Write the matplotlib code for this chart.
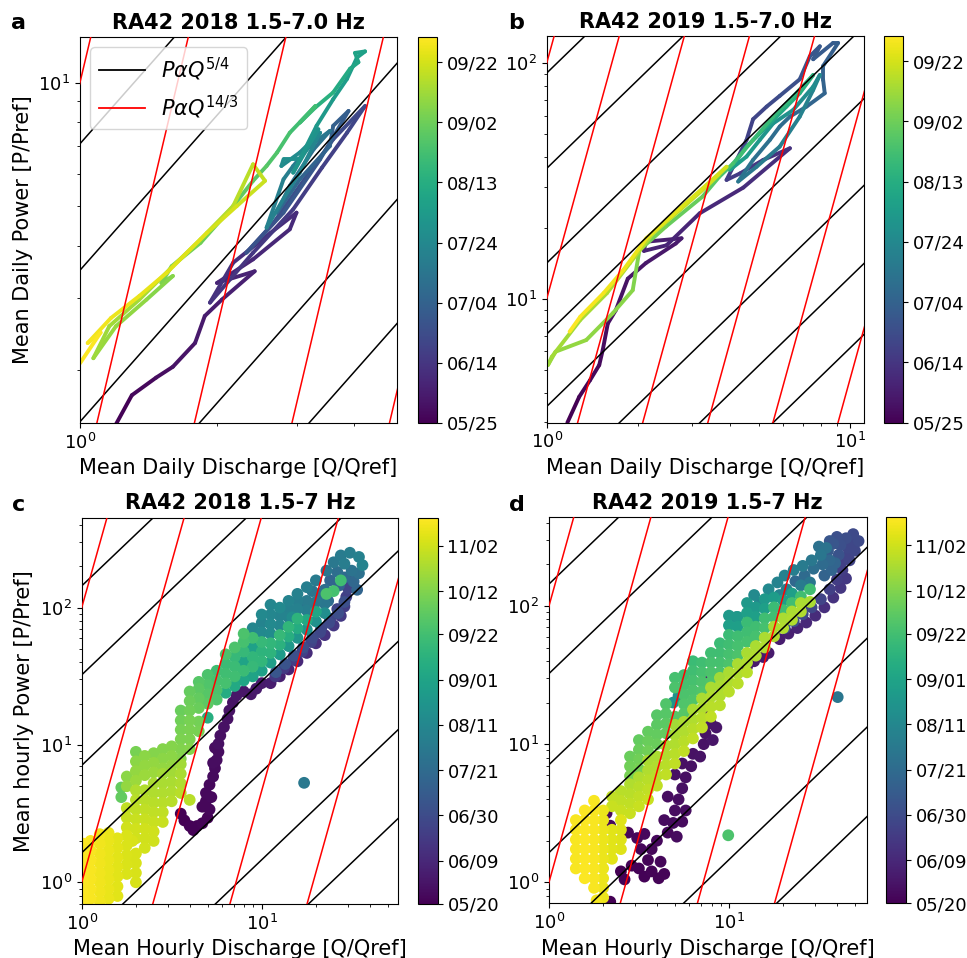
import numpy as np
import matplotlib
matplotlib.use("Agg")
import matplotlib.pyplot as plt
from matplotlib.collections import LineCollection
from matplotlib.colors import Normalize
from matplotlib.cm import ScalarMappable
from matplotlib.ticker import NullFormatter
from matplotlib.lines import Line2D
from datetime import date

# ---------------- text ----------------
titles = ["RA42 2018 1.5-7.0 Hz", "RA42 2019 1.5-7.0 Hz", "RA42 2018 1.5-7 Hz", "RA42 2019 1.5-7 Hz"]
panel_letters = ["a", "b", "c", "d"]
xlabel_daily = "Mean Daily Discharge [Q/Qref]"
ylabel_daily = "Mean Daily Power [P/Pref]"
xlabel_hourly = "Mean Hourly Discharge [Q/Qref]"
ylabel_hourly = "Mean hourly Power [P/Pref]"
legend_labels = [r"$P\alpha Q^{5/4}$", r"$P\alpha Q^{14/3}$"]

cbar_labels_daily = ["05/25", "06/14", "07/04", "07/24", "08/13", "09/02", "09/22"]
cbar_labels_hourly = ["05/20", "06/09", "06/30", "07/21", "08/11", "09/01", "09/22", "10/12", "11/02"]
cbar_span_daily = 128.4     # days shown on the daily colour bars
cbar_span_hourly = 179.0    # days shown on the hourly colour bars

# reference power laws  P = c * Q**k
slope_black = 5.0 / 4.0
slope_red = 14.0 / 3.0
black_const_daily = [90.8, 35.8, 14.2, 7.1, 3.5, 1.5, 0.7, 0.35]
red_const_daily = [100, 10, 1, 0.1, 0.01, 0.001, 1e-4]
black_const_hourly = [144, 32.4, 7.1, 1.64, 0.36, 0.082, 0.0185]
red_const_hourly = [100, 1, 0.01, 1e-4, 1e-6]

# axis limits
xlim_a, ylim_a = (1.0, 4.97), (1.49, 12.9)
xlim_b, ylim_b = (1.0, 11.1), (2.99, 130.6)
xlim_c, ylim_c = (1.0, 57.4), (0.695, 452)
xlim_d, ylim_d = (1.0, 58.2), (0.705, 438)

# ---------------- panel a : daily means 2018 (path in time) ----------------
a_Q = [1.20, 1.30, 1.47, 1.60, 1.79, 1.88, 2.05, 2.42,
       2.00, 2.40, 2.89, 2.99, 2.62, 2.17, 1.93, 2.40, 2.94, 3.40, 3.86, 4.23, 3.60, 3.04, 2.66, 2.32, 2.80, 3.37, 3.89, 3.60, 3.54,
       3.04, 2.71, 2.89, 3.26, 3.54,
       3.20, 2.94, 2.80, 2.57, 2.85, 3.04, 3.31, 3.37, 3.04, 2.77, 2.80, 3.04, 3.34, 2.94,
       3.31, 3.60, 3.86, 4.06, 4.23, 4.02, 4.09, 3.92,
       3.60, 3.29, 3.04, 3.29, 2.89, 2.71, 2.57, 2.40, 2.17, 1.84, 1.59, 1.51, 1.60, 1.40, 1.20, 1.07,
       1.16, 1.35, 1.60, 1.84, 2.17, 2.40, 2.55,
       2.21, 1.90, 1.55, 1.35, 1.17, 1.04, 1.11, 1.00]
a_P = [1.48, 1.74, 1.92, 2.04, 2.33, 2.71, 2.97, 3.48,
       3.26, 3.72, 4.40, 4.83, 4.31, 3.65, 2.92, 3.86, 4.92, 6.21, 7.55, 8.77, 7.28, 5.61, 4.56, 3.86, 4.83, 6.51, 8.53, 7.85, 7.01,
       5.82, 4.83, 5.61, 6.88, 7.63,
       7.01, 6.27, 5.82, 4.44, 5.40, 6.04, 7.28, 7.55, 6.76, 6.27, 6.51, 6.51, 7.70, 6.04,
       7.85, 9.11, 10.2, 11.5, 11.9, 11.8, 11.2, 10.8,
       9.46, 8.70, 7.99, 8.77, 7.55, 6.76, 6.27, 5.77, 5.01, 4.08, 3.58, 3.26, 3.39, 2.97, 2.56, 2.14,
       2.56, 2.97, 3.58, 4.16, 5.01, 6.33, 5.77,
       5.01, 4.31, 3.45, 3.03, 2.68, 2.33, 2.47, 2.08]
a_day = [0, 2, 4, 6, 8, 10, 11, 12,
         13, 14, 15, 16, 17, 18, 19, 20, 22, 24, 26, 28, 29, 30, 31, 32, 34, 36, 38, 39, 40,
         42, 44, 46, 48, 50,
         52, 54, 55, 56, 57, 58, 59, 60, 61, 62, 63, 64, 65, 66,
         68, 70, 71, 72, 73, 74, 75, 76,
         80, 83, 86, 88, 90, 92, 94, 96, 98, 100, 101, 102, 104, 106, 108, 109,
         110, 111, 112, 113, 114, 116, 117,
         119, 121, 123, 124, 125, 126, 127, 128]

# ---------------- panel b : daily means 2019 ----------------
b_Q = [1.17, 1.28, 1.39, 1.49, 1.53, 1.59, 1.69, 1.85, 2.12, 2.66, 2.78, 2.12, 2.09, 2.48, 3.19, 4.44, 6.32,
       5.16, 4.33, 3.91, 4.22, 4.55, 4.78, 5.30, 5.85, 6.81, 7.35, 7.93, 7.54, 8.77, 9.11, 8.13, 8.13, 8.23, 7.17, 6.32, 5.85, 5.43, 4.78, 4.27,
       4.91, 5.85, 6.81, 7.54, 7.93, 7.54, 6.48, 5.57, 5.03, 4.55, 4.01, 4.55, 5.30, 6.16, 6.81, 7.54, 6.48, 5.57, 4.78, 4.11,
       3.70, 3.26, 2.47, 2.02, 1.92, 1.65, 1.35, 1.07, 1.01,
       1.04, 1.29, 1.58, 1.88, 2.24, 2.75, 3.36, 3.91,
       3.36, 2.75, 2.13, 1.79, 1.54, 1.29, 1.19]
b_P = [2.99, 3.85, 4.53, 5.25, 6.08, 7.88, 8.98, 12.2, 14.2, 17.2, 18.1, 17.5, 16.0, 16.9, 23.1, 29.7, 43.6,
       38.9, 34.1, 32.0, 38.9, 47.3, 57.9, 65.5, 72.7, 85.5, 107, 118, 104, 122, 122, 97.4, 85.0, 74.6, 65.5, 59.4, 53.9, 47.3, 38.9, 31.5,
       36.4, 44.3, 59.4, 77.0, 89.2, 79.6, 63.4, 55.6, 47.3, 40.2, 35.3, 44.3, 53.9, 65.5, 74.6, 89.2, 72.2, 59.4, 47.3, 37.6,
       33.0, 27.2, 20.3, 16.1, 10.9, 8.70, 6.70, 5.98, 5.25,
       5.69, 8.15, 10.6, 14.2, 19.0, 23.9, 30.0, 36.4,
       30.5, 24.3, 18.1, 13.3, 10.6, 8.41, 7.27]
b_day = [0, 1, 2, 3, 4, 5, 6, 7, 8, 9, 10, 11, 12, 13, 14, 16, 18,
         20, 22, 23, 24, 25, 26, 28, 30, 32, 34, 35, 36, 37, 38, 39, 40, 41, 42, 44, 45, 46, 48, 50,
         52, 54, 56, 58, 60, 62, 64, 66, 68, 70, 72, 74, 76, 78, 80, 82, 84, 86, 88, 90,
         94, 97, 100, 103, 105, 106, 107, 108, 109,
         110, 111, 112, 113, 114, 115, 117, 119,
         120, 122, 124, 125, 126, 127, 128]

# ---------------- panel c : hourly means 2018 ----------------
c_Q = [
    # early-season hook
    3.55, 3.72, 3.98, 4.37, 4.68, 5.01, 5.13, 4.90, 4.90, 5.13, 5.37, 5.50, 5.62, 5.75, 5.75, 5.89, 6.17, 6.46, 6.61, 6.92,
    7.24, 7.94, 8.71, 9.33, 10.0, 4.17, 4.68, 5.25, 5.37, 5.50,
    # lower edge of the cloud
    11.2, 12.6, 14.1, 15.8, 17.8, 20.0, 22.4, 25.1, 27.5, 28.8, 29.5, 12.0, 13.5, 15.1, 17.0, 19.1, 21.4, 24.0, 26.3, 30.2, 31.6,
    11.9, 13.3, 15.0, 16.8, 18.8, 21.1, 23.7, 26.6, 28.8,
    # upper part of the cloud
    22.9, 25.1, 27.5, 30.9, 34.7, 36.3, 34.7, 31.6, 28.8, 26.3, 28.8, 32.4, 24.0, 26.9, 33.9,
    11.2, 12.6, 14.1, 15.8, 17.8, 20.0, 19.1, 16.6, 20.9, 22.4, 14.8, 18.6, 23.4, 10.0, 11.2,
    # main cloud
    4.47, 4.47, 4.47, 4.47, 5.01, 5.01, 5.01, 5.01, 5.62, 5.62, 5.62, 5.62,
    6.31, 6.31, 6.31, 6.31, 6.31, 7.08, 7.08, 7.08, 7.08, 7.08,
    7.94, 7.94, 7.94, 7.94, 7.94, 7.94, 8.91, 8.91, 8.91, 8.91, 8.91, 8.91,
    10.0, 10.0, 10.0, 10.0, 10.0, 10.0, 11.2, 11.2, 11.2, 11.2, 11.2,
    12.6, 12.6, 12.6, 12.6, 12.6, 14.1, 14.1, 14.1, 14.1, 14.1,
    15.8, 15.8, 15.8, 15.8, 15.8, 17.8, 17.8, 17.8, 17.8, 20.0, 20.0, 20.0, 22.4, 22.4,
    25.1, 27.5, 22.9,
    # falling limb
    1.66, 1.66, 1.78, 1.78, 2.00, 2.00, 2.00, 2.00, 2.24, 2.24, 2.24, 2.51, 2.51, 2.51,
    2.82, 2.82, 2.82, 3.16, 3.16, 3.16, 3.55, 3.55, 3.55, 3.55, 3.55, 3.55,
    3.98, 3.98, 3.98, 3.98, 3.98, 3.98, 3.98, 4.47, 4.47, 5.01,
    # late season
    1.78, 1.78, 1.78, 2.00, 2.00, 2.00, 2.00, 2.00, 2.00, 2.24, 2.24, 2.24, 2.24, 2.24, 2.24, 2.24,
    2.51, 2.51, 2.51, 2.51, 2.51, 2.51, 2.51, 2.82, 2.82, 2.82, 2.82, 2.82, 2.82,
    3.16, 3.16, 3.16, 3.16, 3.55, 3.55, 3.55, 3.55, 3.98,
    # autumn low flow
    1.02, 1.02, 1.02, 1.02, 1.02, 1.02, 1.02, 1.12, 1.12, 1.12, 1.12, 1.12, 1.12, 1.12,
    1.26, 1.26, 1.26, 1.26, 1.26, 1.26, 1.26, 1.26, 1.41, 1.41, 1.41, 1.41, 1.41, 1.41, 1.41, 1.41,
    1.58, 1.58, 1.58, 1.58, 1.58, 1.58, 1.58, 1.78, 1.78, 1.78, 1.78, 1.78, 1.91, 1.91,
    2.00, 2.00, 2.00, 2.00,
    # outlier
    17.2]
c_P = [
    3.16, 2.82, 2.57, 2.57, 2.69, 2.95, 3.39, 3.89, 4.47, 5.13, 5.89, 6.76, 7.76, 8.91, 10.2, 11.7, 13.5, 15.5, 17.8, 20.4,
    22.9, 24.5, 23.4, 25.7, 28.2, 2.40, 3.55, 4.17, 7.41, 9.55,
    28.2, 31.6, 35.5, 40.7, 46.8, 55.0, 63.1, 74.1, 87.1, 102, 120, 33.9, 38.9, 44.7, 51.3, 60.3, 70.8, 83.2, 97.7, 138, 158,
    31.6, 36.3, 41.7, 47.9, 56.2, 66.1, 77.6, 91.2, 110,
    186, 214, 240, 251, 234, 204, 178, 186, 209, 182, 166, 155, 158, 145, 135,
    89.1, 100, 112, 126, 141, 158, 132, 107, 126, 135, 85.1, 107, 112, 89.1, 105,
    18.6, 21.9, 25.7, 28.8, 20.0, 23.4, 27.5, 32.4, 21.4, 25.1, 29.5, 34.7,
    24.0, 28.2, 33.1, 38.9, 45.7, 26.9, 31.6, 37.2, 43.7, 51.3,
    29.5, 34.7, 40.7, 47.9, 56.2, 64.6, 31.6, 37.2, 43.7, 51.3, 60.3, 70.8,
    34.7, 40.7, 47.9, 56.2, 66.1, 77.6, 39.8, 46.8, 55.0, 64.6, 75.9,
    45.7, 53.7, 63.1, 74.1, 87.1, 52.5, 61.7, 72.4, 85.1, 97.7,
    60.3, 70.8, 83.2, 97.7, 112, 69.2, 81.3, 95.5, 112, 79.4, 93.3, 110, 91.2, 107,
    132, 158, 126,
    4.17, 4.90, 5.01, 5.89, 5.50, 6.46, 7.59, 8.91, 6.03, 7.08, 8.32, 6.31, 7.41, 8.71,
    6.76, 7.94, 9.33, 7.08, 8.32, 9.77, 7.94, 9.33, 11.0, 12.9, 15.1, 17.8,
    9.33, 11.0, 12.9, 15.1, 17.8, 20.9, 24.5, 12.6, 14.8, 15.8,
    2.51, 2.95, 3.47, 2.09, 2.45, 2.88, 3.39, 3.98, 4.68, 1.78, 2.09, 2.45, 2.88, 3.39, 3.98, 4.68,
    2.00, 2.34, 2.75, 3.24, 3.80, 4.47, 5.25, 2.75, 3.24, 3.80, 4.47, 5.25, 6.17,
    3.89, 4.57, 5.37, 6.31, 4.47, 5.25, 6.17, 7.24, 3.98,
    0.724, 0.851, 1.00, 1.17, 1.38, 1.62, 1.91, 0.759, 0.891, 1.05, 1.23, 1.45, 1.70, 2.00,
    0.724, 0.851, 1.00, 1.17, 1.38, 1.62, 1.91, 2.24, 0.759, 0.891, 1.05, 1.23, 1.45, 1.70, 2.00, 2.29,
    0.794, 0.933, 1.10, 1.29, 1.51, 1.78, 2.09, 1.15, 1.35, 1.58, 1.86, 2.19, 1.41, 2.00,
    1.00, 1.17, 1.38, 1.62,
    5.30]
c_day = [
    0, 0, 1, 1, 2, 2, 3, 3, 4, 4, 5, 5, 6, 6, 7, 7, 8, 8, 9, 9,
    10, 10, 11, 12, 12, 1, 3, 4, 6, 6,
    14, 16, 18, 20, 22, 24, 26, 28, 30, 32, 34, 48, 46, 44, 42, 40, 38, 36, 36, 36, 38,
    28, 30, 32, 34, 36, 38, 40, 42, 44,
    70, 72, 74, 76, 78, 80, 66, 68, 75, 64, 62, 60, 58, 56, 58,
    82, 84, 80, 78, 76, 74, 70, 68, 66, 64, 86, 72, 62, 84, 82,
    138, 136, 134, 132, 134, 132, 130, 128, 130, 128, 126, 124,
    110, 126, 124, 122, 128, 108, 124, 122, 120, 128,
    106, 122, 104, 120, 126, 128, 104, 120, 118, 102, 124, 82,
    102, 118, 116, 120, 84, 80, 100, 116, 118, 86, 84,
    98, 114, 120, 82, 80, 96, 112, 118, 80, 78,
    94, 110, 116, 78, 76, 92, 108, 76, 74, 90, 106, 72, 88, 70,
    126, 124, 128,
    136, 136, 150, 148, 152, 150, 148, 142, 152, 150, 148, 152, 150, 146,
    150, 148, 146, 150, 148, 146, 146, 145, 144, 142, 140, 138,
    146, 144, 143, 142, 140, 139, 137, 142, 141, 112,
    166, 164, 162, 166, 166, 164, 162, 160, 158, 167, 166, 166, 164, 162, 160, 158,
    166, 166, 164, 162, 160, 158, 156, 164, 162, 160, 158, 156, 154,
    160, 158, 156, 154, 160, 158, 156, 154, 160,
    178, 178, 178, 178, 178, 178, 178, 177, 177, 177, 177, 177, 177, 177,
    175, 175, 175, 175, 175, 175, 175, 175, 173, 173, 173, 173, 173, 173, 173, 173,
    171, 171, 171, 171, 171, 171, 171, 169, 169, 169, 169, 169, 168, 168,
    168, 168, 168, 168,
    72]

# ---------------- panel d : hourly means 2019 ----------------
d_Q = [
    # early season
    2.19, 2.51, 2.63, 2.88, 3.16, 3.39, 3.72, 4.07, 4.37, 3.55, 3.24, 3.72, 4.17, 2.75, 3.09, 3.39, 2.09, 2.19, 3.98, 4.57,
    5.13, 4.37, 4.90, 5.50, 5.01, 5.75, 4.57, 5.25, 5.50, 5.01, 5.75, 6.17, 5.50, 6.31, 6.92, 7.24, 7.41, 8.13, 7.94, 8.51,
    7.59, 7.41, 12.6, 13.8, 15.5, 16.6,
    # lower edge / top of the cloud
    19.1, 21.4, 24.0, 26.9, 30.2, 33.9, 38.0, 41.7, 44.7, 20.4, 22.9, 25.7, 28.8, 32.4, 36.3, 39.8, 42.7,
    46.8, 50.1, 52.5, 49.0, 44.7, 41.7, 45.7, 40.7, 38.0, 35.5,
    39.8, 36.3, 45.7, 50.1, 41.7,
    # upper part
    18.6, 20.4, 22.9, 25.7, 28.8, 32.4, 34.7, 31.6, 29.5, 33.1, 36.3, 26.3, 23.4, 37.2, 33.9, 38.9,
    16.6, 13.8, 14.8, 11.0, 4.90, 5.25, 20.9, 25.1, 28.2, 19.1,
    # main band
    2.82, 2.82, 2.82, 3.16, 3.16, 3.16, 3.16, 3.55, 3.55, 3.55, 3.98, 3.98, 3.98, 3.98,
    4.47, 4.47, 4.47, 4.47, 5.01, 5.01, 5.01, 5.62, 5.62, 5.62, 5.62, 5.62,
    6.31, 6.31, 6.31, 6.31, 6.31, 7.08, 7.08, 7.08, 7.08, 7.94, 7.94, 7.94, 7.94, 8.91, 8.91, 8.91, 8.91,
    10.0, 10.0, 10.0, 10.0, 10.0, 10.0, 11.2, 11.2, 11.2, 11.2, 11.2, 12.6, 12.6, 12.6, 12.6, 12.6,
    14.1, 14.1, 14.1, 14.1, 15.8, 15.8, 15.8, 15.8, 17.8, 17.8, 17.8, 20.0, 20.0, 22.4, 22.4, 25.1, 28.2,
    # core along the trend
    2.24, 2.24, 2.51, 2.51, 2.51, 2.82, 2.82, 2.82, 2.82, 3.16, 3.16, 3.16, 3.16, 3.55, 3.55, 3.55, 3.55, 3.55,
    3.98, 3.98, 3.98, 3.98, 4.47, 4.47, 4.47, 4.47, 5.01, 5.01, 5.01, 5.01, 5.01, 5.62, 5.62, 5.62, 5.62,
    6.31, 6.31, 6.31, 6.31, 7.08, 7.08, 7.08, 7.08, 7.94, 7.94, 7.94, 7.94, 8.91, 8.91, 8.91, 8.91,
    10.0, 10.0, 10.0, 11.2, 11.2, 11.2, 12.6, 12.6, 12.6, 14.1, 14.1, 15.8, 15.8, 17.8, 17.8,
    20.0, 20.0, 22.4, 22.4, 25.1, 25.1, 28.2,
    # autumn low flow
    1.41, 1.41, 1.41, 1.41, 1.41, 1.41, 1.58, 1.58, 1.58, 1.58, 1.58, 1.58, 1.58, 1.58,
    1.78, 1.78, 1.78, 1.78, 1.78, 1.78, 1.78, 1.78, 1.78, 1.78,
    2.00, 2.00, 2.00, 2.00, 2.00, 2.00, 2.00, 2.00, 2.00, 2.00,
    2.24, 2.24, 2.24, 2.24, 2.51, 2.51, 2.51, 2.51, 1.84,
    # outliers
    9.91, 40.2]
d_P = [
    0.724, 1.20, 1.05, 1.32, 1.26, 1.10, 1.20, 1.07, 1.15, 1.45, 1.74, 1.74, 1.41, 2.29, 2.09, 2.24, 3.16, 2.57, 2.00, 2.29,
    2.14, 2.82, 2.69, 2.75, 3.31, 3.31, 4.17, 3.98, 4.79, 6.03, 5.75, 6.92, 7.24, 8.51, 8.13, 10.0, 12.0, 10.7, 14.1, 13.2,
    17.4, 28.2, 36.3, 39.8, 42.7, 45.7,
    57.5, 63.1, 69.2, 75.9, 85.1, 97.7, 115, 135, 158, 69.2, 77.6, 87.1, 97.7, 112, 132, 155, 182,
    214, 251, 295, 331, 309, 275, 263, 234, 282, 251,
    316, 295, 229, 288, 200,
    148, 166, 182, 195, 214, 234, 263, 269, 186, 200, 214, 166, 151, 182, 166, 204,
    132, 120, 105, 83.2, 20.0, 22.4, 132, 141, 148, 120,
    5.89, 6.92, 8.13, 6.61, 7.76, 9.12, 10.7, 8.91, 10.5, 12.3, 10.0, 11.7, 13.8, 16.2,
    12.0, 14.1, 16.6, 19.5, 15.8, 25.7, 30.2, 16.6, 19.5, 22.9, 26.9, 31.6,
    20.9, 24.5, 28.8, 33.9, 39.8, 24.0, 28.2, 33.1, 38.9, 28.2, 33.1, 38.9, 45.7, 33.1, 38.9, 45.7, 53.7,
    38.0, 44.7, 52.5, 61.7, 72.4, 85.1, 43.7, 51.3, 60.3, 70.8, 83.2, 55.0, 64.6, 75.9, 89.1, 105,
    60.3, 70.8, 83.2, 97.7, 69.2, 81.3, 95.5, 112, 83.2, 97.7, 115, 93.3, 110, 105, 123, 117, 132,
    3.55, 4.17, 3.31, 3.89, 4.57, 3.16, 3.72, 4.37, 5.13, 3.55, 4.17, 4.90, 5.75, 3.98, 4.68, 5.50, 6.46, 7.59,
    5.01, 5.89, 6.92, 8.13, 6.03, 7.08, 8.32, 9.77, 7.24, 8.51, 10.0, 11.7, 13.8, 8.91, 10.5, 12.3, 14.5,
    11.0, 12.9, 15.1, 17.8, 13.2, 15.5, 18.2, 21.4, 15.8, 18.6, 21.9, 25.7, 19.1, 22.4, 26.3, 30.2,
    24.0, 28.2, 33.1, 27.5, 32.4, 38.0, 33.1, 38.9, 45.7, 43.7, 51.3, 50.1, 58.9, 60.3, 70.8,
    69.2, 81.3, 79.4, 91.2, 91.2, 105, 107,
    1.26, 1.48, 1.74, 2.04, 2.40, 2.82, 1.07, 1.26, 1.48, 1.74, 2.04, 2.40, 2.82, 3.31,
    0.912, 1.07, 1.26, 1.48, 1.74, 2.04, 2.40, 2.82, 3.31, 3.89,
    0.776, 0.912, 1.07, 1.26, 1.48, 1.74, 2.04, 2.40, 2.82, 3.31,
    1.48, 1.74, 2.04, 2.40, 1.74, 2.04, 2.40, 2.82, 0.741,
    2.19, 21.9]
d_day = [
    0, 0, 1, 1, 1, 1, 2, 2, 2, 2, 3, 3, 3, 3, 3, 4, 4, 4, 4, 4,
    5, 5, 5, 5, 6, 6, 6, 6, 7, 7, 7, 8, 8, 8, 9, 9, 9, 10, 10, 10,
    11, 11, 12, 12, 13, 13,
    14, 16, 18, 20, 22, 24, 26, 28, 30, 44, 42, 40, 38, 36, 34, 32, 32,
    36, 38, 40, 40, 42, 44, 38, 46, 48, 50,
    44, 48, 36, 38, 34,
    80, 78, 76, 74, 72, 70, 68, 66, 64, 62, 60, 62, 60, 58, 56, 58,
    84, 85, 82, 88, 92, 92, 78, 74, 70, 80,
    142, 140, 138, 142, 140, 138, 136, 140, 138, 136, 138, 136, 134, 132,
    136, 134, 132, 130, 132, 128, 126, 132, 130, 128, 126, 124,
    130, 128, 126, 124, 122, 130, 128, 126, 124, 130, 128, 126, 124, 128, 126, 124, 122,
    128, 126, 124, 122, 100, 96, 128, 126, 124, 100, 96, 126, 124, 122, 100, 96,
    126, 124, 100, 96, 126, 124, 100, 96, 124, 122, 98, 124, 100, 124, 100, 124, 124,
    164, 162, 164, 162, 160, 164, 162, 160, 158, 164, 162, 160, 158, 164, 162, 160, 158, 156,
    162, 160, 158, 156, 162, 160, 158, 156, 162, 160, 158, 156, 154, 162, 160, 158, 156,
    162, 160, 158, 156, 162, 160, 158, 156, 162, 160, 158, 156, 160, 158, 156, 154,
    160, 158, 156, 160, 158, 156, 160, 158, 156, 158, 156, 158, 156, 158, 156,
    158, 156, 158, 156, 158, 156, 156,
    177, 177, 177, 177, 177, 177, 178, 178, 178, 178, 178, 178, 178, 178,
    177, 177, 177, 177, 177, 177, 177, 177, 177, 177,
    174, 174, 174, 174, 174, 174, 174, 174, 174, 174,
    171, 171, 171, 171, 170, 170, 170, 170, 176,
    128, 70]

# ---------------- layout (figure fractions) ----------------
FIG_W, FIG_H = 9.67, 9.58
rect_a, cbar_rect_a = [0.0827, 0.5585, 0.3278, 0.4029], [0.4323, 0.5585, 0.0196, 0.4029]
rect_b, cbar_rect_b = [0.5653, 0.5588, 0.3284, 0.4037], [0.9145, 0.5588, 0.0196, 0.4037]
rect_c, cbar_rect_c = [0.0845, 0.0564, 0.3274, 0.4032], [0.4326, 0.0564, 0.0201, 0.4032]
rect_d, cbar_rect_d = [0.5677, 0.0571, 0.3285, 0.4029], [0.9162, 0.0571, 0.0204, 0.4029]
letter_pos = [(0.011, 0.970), (0.525, 0.970), (0.012, 0.467), (0.526, 0.467)]
marker_area = 72


def label_to_days(labels):
    m0, d0 = (int(s) for s in labels[0].split("/"))
    start = date(2018, m0, d0)
    out = []
    for lab in labels:
        m, d = (int(s) for s in lab.split("/"))
        out.append((date(2018, m, d) - start).days)
    return out


def add_ref_lines(ax, black, red, xlim):
    q = np.logspace(np.log10(xlim[0]) - 0.3, np.log10(xlim[1]) + 0.3, 300)
    for c in black:
        ax.plot(q, c * q ** slope_black, color="black", lw=1.1, zorder=4)
    for c in red:
        ax.plot(q, c * q ** slope_red, color="red", lw=1.1, zorder=4)


def style_axes(ax, xlim, ylim, title, xlabel, ylabel=None):
    ax.set_xscale("log")
    ax.set_yscale("log")
    ax.set_xlim(*xlim)
    ax.set_ylim(*ylim)
    ax.xaxis.set_minor_formatter(NullFormatter())
    ax.yaxis.set_minor_formatter(NullFormatter())
    ax.tick_params(labelsize=13)
    ax.set_title(title, fontsize=15, fontweight="bold")
    ax.set_xlabel(xlabel, fontsize=15)
    if ylabel:
        ax.set_ylabel(ylabel, fontsize=15)


def add_cbar(fig, rect, labels, span):
    cax = fig.add_axes(rect)
    sm = ScalarMappable(norm=Normalize(0, span), cmap="viridis")
    cb = fig.colorbar(sm, cax=cax, ticks=label_to_days(labels))
    cb.ax.set_yticklabels(labels)
    cb.ax.tick_params(labelsize=13)
    cb.ax.minorticks_off()
    return cb


def draw_path(ax, Q, P, day, span):
    pts = np.column_stack([Q, P])
    segs = np.stack([pts[:-1], pts[1:]], axis=1)
    d = np.asarray(day, dtype=float)
    lc = LineCollection(segs, cmap="viridis", norm=Normalize(0, span),
                        linewidths=2.8, capstyle="round", joinstyle="round", zorder=2)
    lc.set_array((d[:-1] + d[1:]) / 2.0)
    ax.add_collection(lc)


def draw_scatter(ax, Q, P, day, span):
    Q = np.asarray(Q, dtype=float)
    P = np.asarray(P, dtype=float)
    d = np.asarray(day, dtype=float)
    order = np.argsort(d, kind="stable")
    ax.scatter(Q[order], P[order], c=d[order], cmap="viridis", norm=Normalize(0, span),
               s=marker_area, linewidths=0, zorder=2)


fig = plt.figure(figsize=(FIG_W, FIG_H), dpi=100)

ax_a = fig.add_axes(rect_a)
draw_path(ax_a, a_Q, a_P, a_day, cbar_span_daily)
add_ref_lines(ax_a, black_const_daily, red_const_daily, xlim_a)
style_axes(ax_a, xlim_a, ylim_a, titles[0], xlabel_daily, ylabel_daily)
handles = [Line2D([], [], color="black", lw=1.3), Line2D([], [], color="red", lw=1.3)]
ax_a.legend(handles, legend_labels, loc="upper left", fontsize=15, handlelength=2.2)
add_cbar(fig, cbar_rect_a, cbar_labels_daily, cbar_span_daily)

ax_b = fig.add_axes(rect_b)
draw_path(ax_b, b_Q, b_P, b_day, cbar_span_daily)
add_ref_lines(ax_b, black_const_daily, red_const_daily, xlim_b)
style_axes(ax_b, xlim_b, ylim_b, titles[1], xlabel_daily)
add_cbar(fig, cbar_rect_b, cbar_labels_daily, cbar_span_daily)

ax_c = fig.add_axes(rect_c)
draw_scatter(ax_c, c_Q, c_P, c_day, cbar_span_hourly)
add_ref_lines(ax_c, black_const_hourly, red_const_hourly, xlim_c)
style_axes(ax_c, xlim_c, ylim_c, titles[2], xlabel_hourly, ylabel_hourly)
add_cbar(fig, cbar_rect_c, cbar_labels_hourly, cbar_span_hourly)

ax_d = fig.add_axes(rect_d)
draw_scatter(ax_d, d_Q, d_P, d_day, cbar_span_hourly)
add_ref_lines(ax_d, black_const_hourly, red_const_hourly, xlim_d)
style_axes(ax_d, xlim_d, ylim_d, titles[3], xlabel_hourly)
add_cbar(fig, cbar_rect_d, cbar_labels_hourly, cbar_span_hourly)

for (x, y), letter in zip(letter_pos, panel_letters):
    fig.text(x, y, letter, fontsize=16, fontweight="bold")

fig.savefig("out.png", dpi=100)
